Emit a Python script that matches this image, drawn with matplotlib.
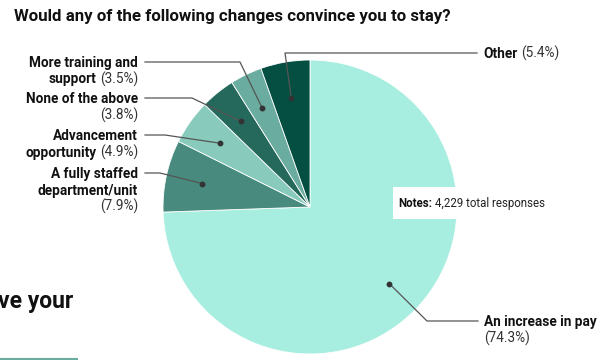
import matplotlib
matplotlib.use("Agg")
import matplotlib.pyplot as plt
import numpy as np
from matplotlib.patches import Rectangle

# ---------------------------------------------------------------------------
# Data
# ---------------------------------------------------------------------------
categories = [
    "An increase in pay",
    "A fully staffed department/unit",
    "Advancement opportunity",
    "None of the above",
    "More training and support",
    "Other",
]
shares = [74.3, 7.9, 4.9, 3.8, 3.5, 5.4]
colors = ["#a7eee0", "#488b7e", "#88cbbd", "#25695c", "#6aac9f", "#044f42"]
total_responses = "4,229"

# label text broken into lines, (piece, bold)
label_lines = {
    "An increase in pay": [[("An increase in pay", True)], [("pct", False)]],
    "A fully staffed department/unit": [[("A fully staffed", True)],
                                        [("department/unit", True)],
                                        [("pct", False)]],
    "Advancement opportunity": [[("Advancement", True)],
                                [("opportunity", True), ("pct", False)]],
    "None of the above": [[("None of the above", True)], [("pct", False)]],
    "More training and support": [[("More training and", True)],
                                  [("support", True), ("pct", False)]],
    "Other": [[("Other", True), ("pct", False)]],
}

# ---------------------------------------------------------------------------
# Layout (pixel coordinates, y downwards)
# ---------------------------------------------------------------------------
W, H = 605, 360
CX, CY, R = 310, 207, 147
FONT = "Roboto"
LINE_H = 16.5

# side, text x, first line y, elbow point, line end x
layout = {
    "An increase in pay": ("right", 484, 321, (427, 321), 478),
    "A fully staffed department/unit": ("left", 138, 173, (160, 173), 145),
    "Advancement opportunity": ("left", 138, 135, (165, 135), 145),
    "None of the above": ("left", 138, 98, (192, 98), 145),
    "More training and support": ("left", 138, 62, (240, 62), 145),
    "Other": ("right", 483, 53, (285, 53), 477),
}

fig = plt.figure(figsize=(W / 100, H / 100), dpi=100)
ax = fig.add_axes([0, 0, 1, 1])

# y axis is inverted, so counterclock=True / -90 gives clockwise from 12 o'clock
wedges, _ = ax.pie(
    shares,
    colors=colors,
    startangle=-90,
    counterclock=True,
    center=(CX, CY),
    radius=R,
    wedgeprops=dict(edgecolor="white", linewidth=0.6),
    frame=True,
)
ax.set_xlim(0, W)
ax.set_ylim(H, 0)
ax.set_axis_off()

fig.canvas.draw()
renderer = fig.canvas.get_renderer()


def draw_line(parts, x, y, ha, size=9.8):
    """Draw mixed bold/regular pieces on one baseline."""
    base = y + 5
    gap = 3.5
    seq = parts if ha == "left" else list(reversed(parts))
    sign = 1 if ha == "left" else -1
    cur = x
    for txt, bold in seq:
        t = ax.text(cur, base, txt, ha=ha, va="baseline", fontsize=size,
                    family=FONT, fontweight="bold" if bold else "normal",
                    color="#111111" if bold else "#333333")
        w = t.get_window_extent(renderer).width
        cur += sign * (w + gap)


total = sum(shares)
cum = 0.0
for cat, val in zip(categories, shares):
    mid = cum + val / 2
    cum += val
    theta = np.deg2rad(-90 + 360 * mid / total)
    dx = CX + 0.75 * R * np.cos(theta)
    dy = CY + 0.75 * R * np.sin(theta)

    side, tx, ty, elbow, lend = layout[cat]
    ax.plot([dx, elbow[0], lend], [dy, elbow[1], elbow[1]],
            color="#555555", lw=0.9, zorder=5)
    ax.plot(dx, dy, "o", ms=3.2, color="#333333", zorder=6)

    pct = f"({val}%)"
    for i, line in enumerate(label_lines[cat]):
        parts = [(pct if p == "pct" else p, b) for p, b in line]
        draw_line(parts, tx, ty + i * LINE_H, "left" if side == "right" else "right")

# notes box
ax.add_patch(Rectangle((393, 187), 162, 32, facecolor="white", edgecolor="none", zorder=7))
nb = ax.text(398, 207, "Notes:", ha="left", va="baseline", fontsize=8.3,
             family=FONT, fontweight="bold", color="#111111", zorder=8)
w = nb.get_window_extent(renderer).width
ax.text(398 + w + 3, 207, f"{total_responses} total responses", ha="left",
        va="baseline", fontsize=8.3, family=FONT, color="#222222", zorder=8)

# title
ax.text(14, 20.5, "Would any of the following changes convince you to stay?",
        ha="left", va="baseline", fontsize=12.2, family=FONT, fontweight="bold",
        color="#111111")

# page behind the chart (cut off at the left edge, as in the original)
ax.text(73, 308, "ve your", ha="right", va="baseline", fontsize=16.5,
        family=FONT, fontweight="bold", color="#111111")
ax.plot([0, 78], [359, 359], color="#6aac9f", lw=1.5, solid_capstyle="butt")

fig.savefig("out.png", dpi=100)
